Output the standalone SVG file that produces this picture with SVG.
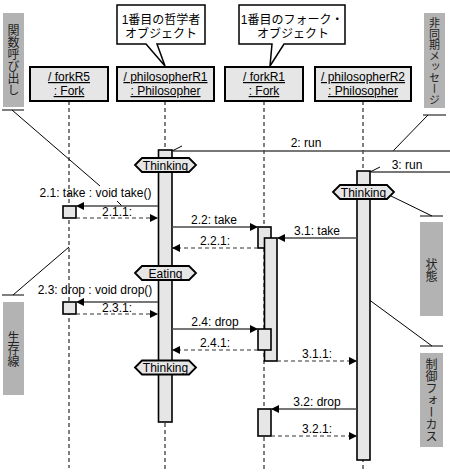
<svg xmlns="http://www.w3.org/2000/svg" width="450" height="472" viewBox="0 0 450 472">
<style>
.t{font-family:"Liberation Sans",Arial,sans-serif;font-size:12px;fill:#000;text-anchor:middle}
.u{text-decoration:underline}
.jp{font-family:"Liberation Sans","Noto Sans CJK JP",sans-serif;font-size:12px;fill:#000;text-anchor:middle}
.vt{font-family:"Noto Sans CJK JP",sans-serif;font-size:12px;fill:#222;text-anchor:middle;writing-mode:vertical-rl}
.hd{fill:#e6e6e6;stroke:#000;stroke-width:2}
.act{fill:#e6e6e6;stroke:#000;stroke-width:1.6}
.life{stroke:#000;stroke-width:1;stroke-dasharray:4 3;fill:none}
.msg{stroke:#4a4a4a;stroke-width:1.7;fill:none}
.ret{stroke:#333;stroke-width:1.2;stroke-dasharray:4 3;fill:none}
.gray{fill:#b3b3b3}
.ptr{stroke:#000;stroke-width:1;fill:none}
.hex{fill:#e6e6e6;stroke:#000;stroke-width:1.8}
.call{fill:#fff;stroke:#000;stroke-width:1.5}
</style>
<defs>
<marker id="ah" markerUnits="userSpaceOnUse" markerWidth="8" markerHeight="8" viewBox="0 0 8 8" refX="8" refY="4" orient="auto">
<path d="M0,0 L8,4 L0,8 Z" fill="#000"/>
</marker>
</defs>

<!-- side notes -->
<g id="note-call">
<rect class="gray" x="3" y="13" width="21" height="94"/>
<text class="vt" x="13.5" y="60">関数呼び出し</text>
<line class="ptr" x1="2" y1="110" x2="24" y2="110"/>
<line class="ptr" x1="12" y1="110" x2="100" y2="186"/>
<line class="ptr" x1="117" y1="201" x2="122" y2="206"/>
</g>
<g id="note-async">
<rect class="gray" x="424" y="13" width="21" height="95"/>
<text class="vt" x="434.5" y="61" style="font-size:11px">非同期メッセージ</text>
<line class="ptr" x1="423" y1="115" x2="446" y2="115"/>
<line class="ptr" x1="428" y1="115" x2="393" y2="151"/>
</g>
<g id="note-state">
<rect class="gray" x="420" y="222" width="23" height="94"/>
<text class="vt" x="431.5" y="270">状態</text>
<line class="ptr" x1="420" y1="216" x2="443" y2="216"/>
<line class="ptr" x1="391" y1="196" x2="432" y2="216"/>
</g>
<g id="note-focus">
<rect class="gray" x="420" y="353" width="23" height="94"/>
<text class="vt" x="431.5" y="400">制御フォーカス</text>
<line class="ptr" x1="420" y1="346" x2="443" y2="346"/>
<line class="ptr" x1="364" y1="296" x2="432" y2="346"/>
</g>
<g id="note-lifeline">
<rect class="gray" x="3" y="302" width="21" height="93"/>
<text class="vt" x="13.5" y="349">生存線</text>
<line class="ptr" x1="2" y1="295" x2="24" y2="295"/>
<line class="ptr" x1="13" y1="295" x2="69" y2="247"/>
</g>

<!-- callouts -->
<g id="note-philosopher">
<path class="call" d="M117,5 H205 V44 H157 L165,66 L146,44 H117 Z"/>
<text class="jp" x="161" y="24">1番目の哲学者</text>
<text class="jp" x="161" y="38">オブジェクト</text>
</g>
<g id="note-fork">
<path class="call" d="M239,5 H345 V44 H284 L270,66 L272,44 H239 Z"/>
<text class="jp" x="292" y="24">1番目のフォーク・</text>
<text class="jp" x="293" y="38">オブジェクト</text>
</g>

<!-- lifelines -->
<g id="forkR5">
<line class="life" x1="69" y1="101" x2="69" y2="468"/>
<rect class="hd" x="30" y="67" width="78" height="34"/>
<text class="t u" x="69" y="81">/ forkR5</text>
<text class="t u" x="69" y="95">: Fork</text>
<rect class="act" x="63" y="206" width="13" height="12"/>
<rect class="act" x="63" y="302" width="13" height="12"/>
</g>
<g id="philosopherR1">
<line class="life" x1="165" y1="101" x2="165" y2="470"/>
<rect class="hd" x="117" y="67" width="97" height="34"/>
<text class="t u" x="165.5" y="81">/ philosopherR1</text>
<text class="t u" x="165.5" y="95">: Philosopher</text>
<rect class="act" x="158.5" y="150" width="13.5" height="272"/>
</g>
<g id="forkR1">
<line class="life" x1="264" y1="101" x2="264" y2="470"/>
<rect class="hd" x="225" y="67" width="78" height="34"/>
<text class="t u" x="264" y="81">/ forkR1</text>
<text class="t u" x="264" y="95">: Fork</text>
<rect class="act" x="258" y="227" width="13" height="21"/>
<rect class="act" x="264.5" y="238" width="12.5" height="123"/>
<rect class="act" x="258" y="329" width="13" height="21"/>
<rect class="act" x="258" y="409" width="13" height="27"/>
</g>
<g id="philosopherR2">
<line class="life" x1="363" y1="101" x2="363" y2="470"/>
<rect class="hd" x="315" y="67" width="96" height="34"/>
<text class="t u" x="363" y="81">/ philosopherR2</text>
<text class="t u" x="363" y="95">: Philosopher</text>
<rect class="act" x="357" y="171" width="13" height="289"/>
</g>

<!-- connectors -->
<g id="connectors">
<line class="msg" x1="450" y1="151" x2="172" y2="151"/>
<line class="ptr" x1="172" y1="151" x2="182" y2="146"/>
<text class="t" x="306" y="147">2: run</text>
<line class="msg" x1="450" y1="172" x2="370" y2="172"/>
<line class="ptr" x1="370" y1="172" x2="380" y2="167"/>
<text class="t" x="407" y="169">3: run</text>

<line class="msg" x1="158" y1="206" x2="76" y2="206" marker-end="url(#ah)"/>
<text class="t" x="95.5" y="197">2.1: take : void take()</text>
<line class="ret" x1="76" y1="218" x2="158" y2="218" marker-end="url(#ah)"/>
<text class="t" x="117" y="216">2.1.1:</text>

<line class="msg" x1="172" y1="227" x2="258" y2="227" marker-end="url(#ah)"/>
<text class="t" x="214" y="224">2.2: take</text>
<line class="ret" x1="258" y1="248" x2="172" y2="248" marker-end="url(#ah)"/>
<text class="t" x="215" y="245">2.2.1:</text>

<line class="msg" x1="357" y1="238" x2="277" y2="238" marker-end="url(#ah)"/>
<text class="t" x="317" y="235">3.1: take</text>

<line class="msg" x1="158" y1="302" x2="76" y2="302" marker-end="url(#ah)"/>
<text class="t" x="95" y="294">2.3: drop : void drop()</text>
<line class="ret" x1="76" y1="314" x2="158" y2="314" marker-end="url(#ah)"/>
<text class="t" x="117" y="312">2.3.1:</text>

<line class="msg" x1="172" y1="329" x2="258" y2="329" marker-end="url(#ah)"/>
<text class="t" x="215" y="326">2.4: drop</text>
<line class="ret" x1="258" y1="350" x2="172" y2="350" marker-end="url(#ah)"/>
<text class="t" x="215" y="347">2.4.1:</text>

<line class="ret" x1="277" y1="361" x2="357" y2="361" marker-end="url(#ah)"/>
<text class="t" x="317" y="358">3.1.1:</text>

<line class="msg" x1="357" y1="409" x2="271" y2="409" marker-end="url(#ah)"/>
<text class="t" x="317" y="406">3.2: drop</text>
<line class="ret" x1="271" y1="436" x2="357" y2="436" marker-end="url(#ah)"/>
<text class="t" x="317" y="433">3.2.1:</text>
</g>

<!-- states -->
<g id="state-thinking1">
<path class="hex" d="M135,165 L142,158 H189 L196,165 L189,172 H142 Z"/>
<text class="t" x="165.5" y="169.5">Thinking</text>
</g>
<g id="state-eating">
<path class="hex" d="M135,273 L142,266 H189 L196,273 L189,280 H142 Z"/>
<text class="t" x="165.5" y="277.5">Eating</text>
</g>
<g id="state-thinking2">
<path class="hex" d="M135,367.5 L142,360.5 H189 L196,367.5 L189,374.5 H142 Z"/>
<text class="t" x="165.5" y="372">Thinking</text>
</g>
<g id="state-thinking3">
<path class="hex" d="M333,192 L340,185 H387 L394,192 L387,199 H340 Z"/>
<text class="t" x="363.5" y="196.5">Thinking</text>
</g>
</svg>
